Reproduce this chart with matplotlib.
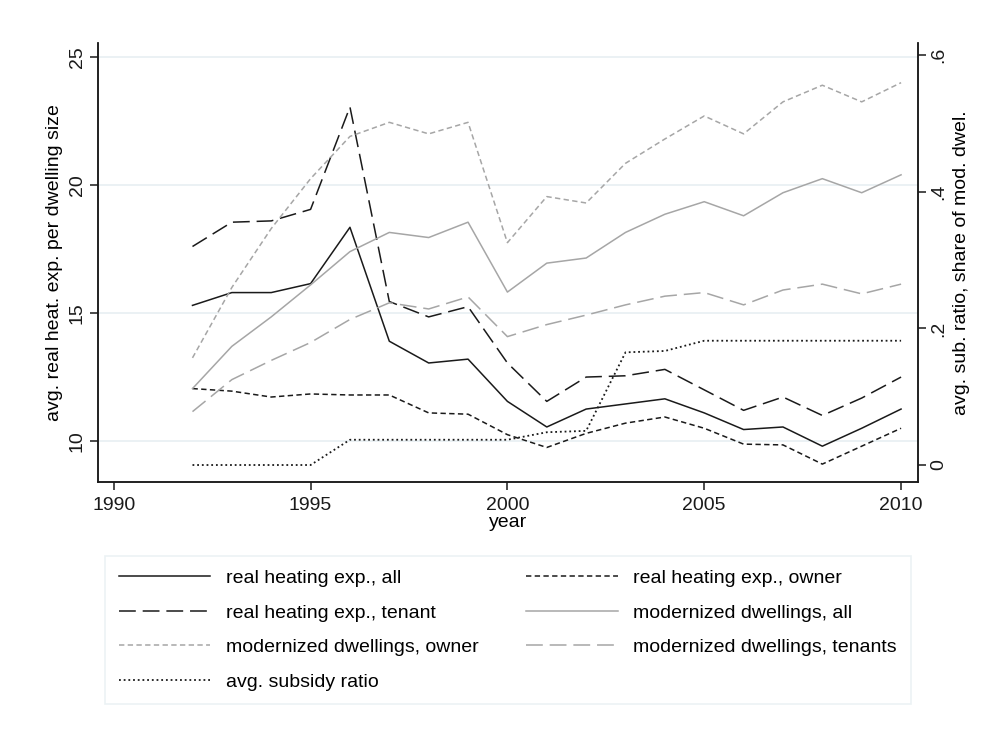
import matplotlib
matplotlib.use("Agg")
import matplotlib.pyplot as plt

plt.rcParams['font.family'] = ['Liberation Sans', 'DejaVu Sans']

years = list(range(1992, 2011))

heat_all = [15.3, 15.8, 15.8, 16.15, 18.35, 13.9, 13.05, 13.2, 11.55, 10.55, 11.25, 11.45, 11.65,
            11.1, 10.45, 10.55, 9.8, 10.5, 11.25]
heat_owner = [12.05, 11.95, 11.72, 11.84, 11.8, 11.8, 11.1, 11.05, 10.25, 9.75, 10.3, 10.7, 10.94,
              10.5, 9.88, 9.85, 9.1, 9.8, 10.5]
heat_tenant = [17.6, 18.55, 18.6, 19.05, 23.05, 15.45, 14.85, 15.25, 13.05, 11.55, 12.5, 12.55, 12.8,
               12.0, 11.2, 11.72, 11.0, 11.68, 12.5]
mod_all = [12.05, 13.7, 14.85, 16.1, 17.4, 18.15, 17.95, 18.55, 15.82, 16.95, 17.15, 18.15, 18.86,
           19.35, 18.8, 19.7, 20.25, 19.7, 20.4]
mod_owner = [13.25, 16.0, 18.3, 20.25, 21.9, 22.45, 22.0, 22.45, 17.75, 19.55, 19.3, 20.85, 21.8,
             22.7, 22.0, 23.25, 23.9, 23.25, 24.0]
mod_tenant = [11.15, 12.4, 13.15, 13.85, 14.75, 15.4, 15.16, 15.63, 14.08, 14.55, 14.92, 15.32, 15.66,
              15.8, 15.32, 15.9, 16.13, 15.75, 16.13]
subsidy = [0.0, 0.0, 0.0, 0.0, 0.037, 0.037, 0.037, 0.037, 0.037, 0.048, 0.05, 0.165, 0.167,
           0.182, 0.182, 0.182, 0.182, 0.182, 0.182]

labels = ["real heating exp., all", "real heating exp., owner", "real heating exp., tenant",
          "modernized dwellings, all", "modernized dwellings, owner", "modernized dwellings, tenants",
          "avg. subsidy ratio"]

black = "#1a1a1a"
gray = "#a6a6a6"
grid_col = "#e7eff2"
fs = 14

fig = plt.figure(figsize=(9.92, 7.31), dpi=100)
ax = fig.add_axes([0.0988, 0.3406, 0.8266, 0.6006])
ax2 = ax.twinx()

lw = 1.1
h1, = ax.plot(years, heat_all, color=black, lw=lw, label=labels[0])
h2, = ax.plot(years, heat_owner, color=black, lw=lw, dashes=(3.5, 2.2), label=labels[1])
h3, = ax.plot(years, heat_tenant, color=black, lw=lw, dashes=(11, 4.5), label=labels[2])
h4, = ax.plot(years, mod_all, color=gray, lw=lw, label=labels[3])
h5, = ax.plot(years, mod_owner, color=gray, lw=lw, dashes=(3.5, 2.2), label=labels[4])
h6, = ax.plot(years, mod_tenant, color=gray, lw=lw, dashes=(11, 4.5), label=labels[5])
h7, = ax2.plot(years, subsidy, color=black, lw=1.3, dashes=(1, 1.6), label=labels[6])

ax.set_xlim(1989.6, 2010.43)
ax.set_ylim(8.4, 25.55)
ax2.set_ylim(-0.0249, 0.618)

ax.set_yticks([10, 15, 20, 25])
ax.set_xticks([1990, 1995, 2000, 2005, 2010])
ax2.set_yticks([0, 0.2, 0.4, 0.6])
ax2.set_yticklabels(["0", ".2", ".4", ".6"])

for v in [10, 15, 20, 25]:
    ax.axhline(v, color=grid_col, lw=1.2, zorder=0)

for a in (ax, ax2):
    a.spines['top'].set_visible(False)
    for s in a.spines.values():
        s.set_linewidth(1.1)
        s.set_color(black)
    a.tick_params(length=6, width=1.1, color=black, labelsize=fs, labelcolor=black, pad=3)
ax.tick_params(axis='x', pad=5)
ax.tick_params(axis='y', labelrotation=90)
ax2.tick_params(axis='y', labelrotation=90)
for t in ax.get_yticklabels() + ax2.get_yticklabels():
    t.set_va('center')

ax.set_xlabel("year", fontsize=fs, labelpad=0)
ax.set_ylabel("avg. real heat. exp. per dwelling size", fontsize=fs, labelpad=4)
ax2.set_ylabel("avg. sub. ratio, share of mod. dwel.", fontsize=fs, rotation=90, labelpad=4)

handles = [h1, h3, h5, h7, h2, h4, h6]
leg = fig.legend(handles, [h.get_label() for h in handles], ncol=2,
                 loc='upper left', bbox_to_anchor=(0.106, 0.04, 0.812, 0.1995),
                 mode='expand', fontsize=fs, frameon=True, fancybox=False,
                 handlelength=4.7, handletextpad=0.8, labelspacing=0.87,
                 borderpad=0.7, borderaxespad=0, columnspacing=2.0)
leg.get_frame().set_edgecolor(grid_col)
leg.get_frame().set_linewidth(1.2)

fig.savefig("out.png", dpi=100)
plt.close(fig)
